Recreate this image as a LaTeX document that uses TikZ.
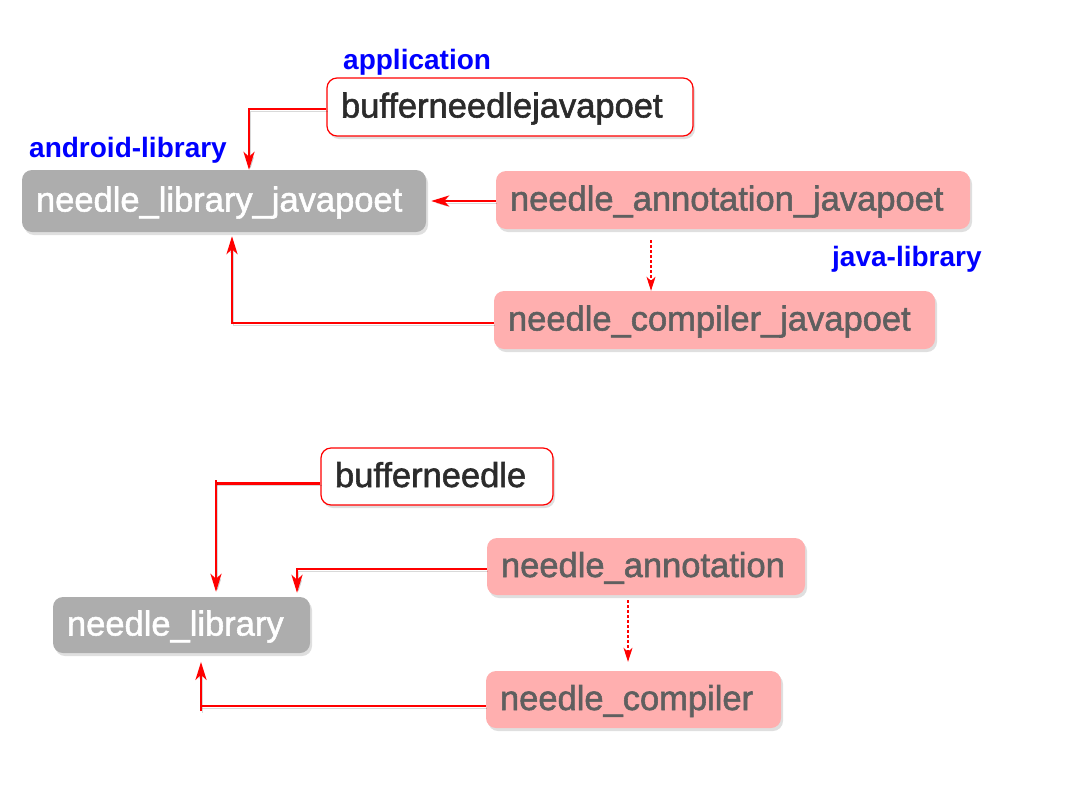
\documentclass[tikz,border=0pt]{standalone}
\usepackage{fontspec}
\setmainfont{Liberation Sans}
\newfontfamily\nodefont{Liberation Sans}[FakeBold=1.6]
\newfontfamily\lblfont{Liberation Sans Bold}
\usetikzlibrary{arrows.meta,shadows,calc}
\definecolor{pinkfill}{HTML}{FFAFAF}
\definecolor{greyfill}{HTML}{ADADAD}
\definecolor{pinktext}{HTML}{5F5F5F}
\definecolor{darktext}{HTML}{2B2B2B}
\definecolor{lblblue}{HTML}{0000FF}
\definecolor{linered}{HTML}{FF0000}
\tikzset{
 box/.style={rounded corners=10pt, inner xsep=14pt, inner ysep=0pt, align=left,
   text height=26pt, text depth=5pt, font=\nodefont\fontsize{34.5pt}{40pt}\selectfont,
   drop shadow={shadow xshift=2pt,shadow yshift=-3pt,opacity=0.25}},
 whitebox/.style={box, draw=linered, line width=1.2pt, fill=white, text=darktext},
 pinkbox/.style={box, fill=pinkfill, text=pinktext},
 greybox/.style={box, fill=greyfill, text=white},
 lbl/.style={font=\lblfont\fontsize{28pt}{32pt}\selectfont, text=lblblue, anchor=base west, inner sep=0pt},
 lshadow/.style={preaction={draw=black, opacity=0.15, transform canvas={shift={(1.5pt,-2pt)}}}},
 conn/.style={draw=linered, line width=2.4pt, lshadow},
 arr/.style={conn, -{Stealth[length=18pt,width=11pt,inset=5pt]}},
 darr/.style={draw=linered, line width=1.1pt, dash pattern=on 3pt off 2pt,
   -{Stealth[length=14pt,width=9pt,inset=4pt]}},
}
\begin{document}
\begin{tikzpicture}[x=1pt,y=-1pt]
\useasboundingbox (0,0) rectangle (1086,798);
% top group
\node[whitebox, text width=338pt, minimum height=58pt] (bufjp) at (510,107) {bufferneedlejavapoet};
\node[greybox, text width=376pt, minimum height=62pt] (libjp) at (224,201) {needle\_library\_javapoet};
\node[pinkbox, text width=446pt, minimum height=58pt] (annjp) at (733,200) {needle\_annotation\_javapoet};
\node[pinkbox, text width=413pt, minimum height=58pt] (compjp) at (714.5,320) {needle\_compiler\_javapoet};
\node[lbl] (lapp) at (343,69) {application};
\node[lbl] (landroid) at (29,157) {android-library};
\node[lbl] (ljava) at (832,266) {java-library};
\draw[arr] ([yshift=-2pt]bufjp.west) -| ([xshift=25pt]libjp.north);
\draw[arr, shorten >=5pt] (annjp.west |- libjp.east) -- (libjp.east);
\draw[darr, shorten <=11pt] ([xshift=-82pt]annjp.south) -- ([xshift=-82pt]annjp.south |- compjp.north);
\draw[arr, shorten >=4pt] ([yshift=-3pt]compjp.west) -| ([xshift=8pt]libjp.south);
% bottom group
\node[whitebox, text width=204pt, minimum height=57pt] (buf) at (437,476.5) {bufferneedle};
\node[greybox, text width=229pt, minimum height=56pt] (lib) at (181.5,625) {needle\_library};
\node[pinkbox, text width=290pt, minimum height=57pt] (ann) at (646,566.5) {needle\_annotation};
\node[pinkbox, text width=267pt, minimum height=57pt] (comp) at (633.5,699.5) {needle\_compiler};
\path ([yshift=-7pt]buf.west) coordinate (b1) ([xshift=34.5pt]lib.north) coordinate (l1);
\path ([yshift=-6.5pt]comp.west) coordinate (b2) ([xshift=19.5pt]lib.south) coordinate (l2);
\draw[arr, shorten >=5pt] (b1) -| (l1);
\draw[conn] (l1 |- b1) -- ++(0,-4);
\draw[arr, shorten >=4pt] ([yshift=-2.5pt]ann.west) -| ([xshift=115.5pt]lib.north);
\draw[darr, shorten <=5pt, shorten >=9pt] ([xshift=-18pt]ann.south) -- ([xshift=-18pt]ann.south |- comp.north);
\draw[arr, shorten >=8.7pt] (b2) -| (l2);
\draw[conn] (l2 |- b2) -- ++(0,5);
\end{tikzpicture}
\end{document}
